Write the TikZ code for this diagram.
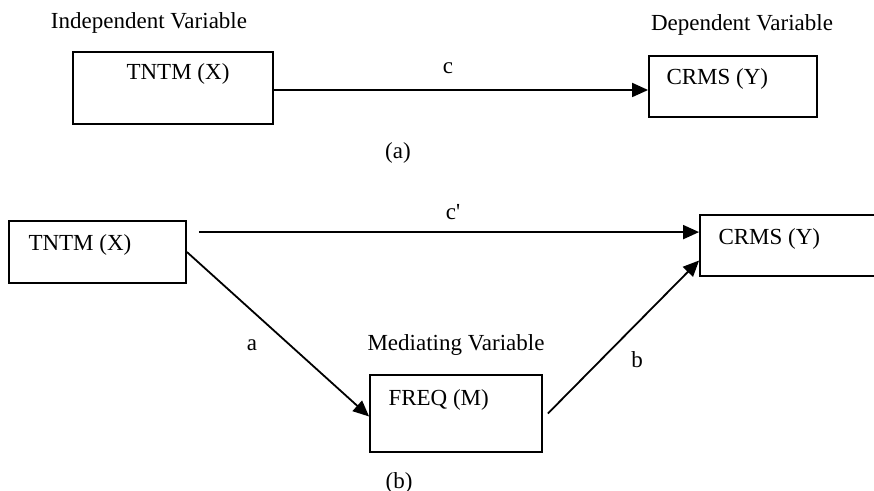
\documentclass[tikz,border=0pt]{standalone}
\usepackage{fontspec}
\setmainfont{Liberation Serif}
\usetikzlibrary{arrows.meta}
\begin{document}
\begin{tikzpicture}
	[x=0.5pt,y=-0.5pt,
	 var box/.style={draw,line width=0.9pt,inner sep=0pt,minimum width=#1},
	 var text/.style={font=\fontsize{11.5}{14}\selectfont,inner sep=0pt},
	 path arrow/.style={line width=0.9pt,-{Triangle[length=8pt,width=7pt]}}]
	\useasboundingbox (0,0) rectangle (874,491);
	% (a) total effect
	\node[var box=100pt,minimum height=36pt] (tntmA) at (173,88) {};
	\node[var box=84pt,minimum height=30.5pt] (crmsA) at (733,86.5) {};
	\node[var text] (tntmAtext) at ([shift={(5,23)}]tntmA.north) {TNTM (X)};
	\node[var text,anchor=west] (crmsAtext) at ([shift={(18,24)}]crmsA.north west) {CRMS (Y)};
	\node[var text] (indep) at (149,23) {Independent Variable};
	\node[var text] (dep) at (742,25) {Dependent Variable};
	\draw[path arrow] ([yshift=-1pt]tntmA.east) -- ([yshift=-1pt]tntmA.east -| crmsA.west);
	\node[var text] (labc) at (448,68) {c};
	\node[var text] (capa) at (398,153) {(a)};
	% (b) mediation
	\node[var box=88.5pt,minimum height=31pt] (tntmB) at (97.5,252) {};
	\node[var box=88pt,minimum height=30.5pt] (crmsB) at (788,245.5) {};
	\node[var box=86pt,minimum height=38.5pt] (freq) at (456,413.5) {};
	\node[var text,anchor=west] (tntmBtext) at ([shift={(20,25)}]tntmB.north west) {TNTM (X)};
	\node[var text,anchor=west] (crmsBtext) at ([shift={(19,25)}]crmsB.north west) {CRMS (Y)};
	\node[var text,anchor=west] (freqtext) at ([shift={(19,26)}]freq.north west) {FREQ (M)};
	\node[var text] (medi) at (456,345) {Mediating Variable};
	\coordinate (cpstart) at ([shift={(12,12)}]tntmB.north east);
	\draw[path arrow] (cpstart) -- (cpstart -| crmsB.west);
	\draw[path arrow] (tntmB.east) -- ([shift={(0,3)}]freq.west);
	\draw[path arrow] ([xshift=2.5pt]freq.east) -- ([shift={(0,15)}]crmsB.west);
	\node[var text] (labcp) at (453,212) {c\textquotesingle};
	\node[var text] (laba) at (252,345) {a};
	\node[var text] (labb) at (637,360) {b};
	\node[var text] (capb) at (399,483) {(b)};
\end{tikzpicture}
\end{document}
